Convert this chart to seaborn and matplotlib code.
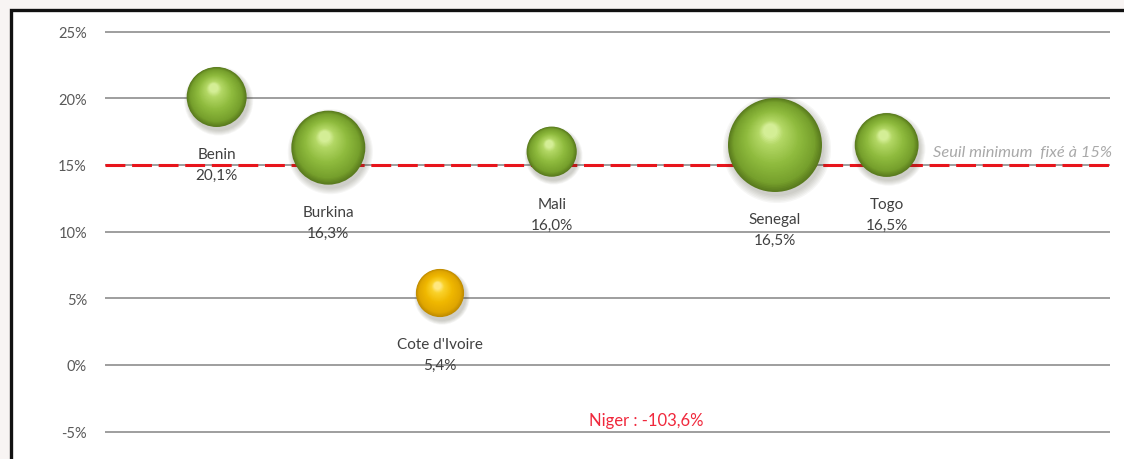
import numpy as np
import pandas as pd
import matplotlib
matplotlib.use("Agg")
import matplotlib.pyplot as plt
from matplotlib.colors import LinearSegmentedColormap
from matplotlib.patches import Rectangle
import matplotlib.transforms as mtransforms
import seaborn as sns

# --- données ---------------------------------------------------------------
pays = ["Benin", "Burkina", "Cote d'Ivoire", "Mali", "Niger", "Senegal", "Togo"]
position = [1, 2, 3, 4, 5, 6, 7]
ratio = [20.1, 16.3, 5.4, 16.0, -103.6, 16.5, 16.5]          # en %
taille_bulle = [9.0, 13.7, 5.8, 6.3, 8.0, 22.1, 10.2]
conforme = [True, True, False, True, False, True, True]
seuil = 15.0
graduations = [-5, 0, 5, 10, 15, 20, 25]

df = pd.DataFrame({"pays": pays, "x": position, "ratio": ratio,
                   "taille": taille_bulle, "conforme": conforme})

sns.set_theme(style="white")
plt.rcParams["font.family"] = ["Lato", "DejaVu Sans"]

W, H, DPI = 1124, 460, 100
fig = plt.figure(figsize=(W / DPI, H / DPI), dpi=DPI)
fig.patch.set_facecolor("#f8f4f3")

# cadre noir du graphique
fig.patches.append(Rectangle((10.5, -20), W + 20, H - 10.5 + 20, transform=None,
                             facecolor="white", edgecolor="#111111",
                             linewidth=2.4, zorder=-5))

ax = fig.add_axes([105 / W, 0, 1005 / W, (H - 14) / H])
ax.patch.set_visible(False)
ax.set_xlim(0, 9)
y_bas = -(H - 366) / (400 / 30)
y_haut = (366 - 14) / (400 / 30)
ax.set_ylim(y_bas, y_haut)
for s in ax.spines.values():
    s.set_visible(False)

ax.set_yticks(graduations)
ax.set_yticklabels([f"{g}%" for g in graduations], fontsize=10.5, color="#595959")
ax.set_xticks([])
ax.tick_params(axis="y", length=0, pad=13)
for g in graduations:
    ax.axhline(g, color="#8e8e8e", linewidth=1.2, zorder=1)

# seuil minimum
ax.axhline(seuil, color="#e8141b", linewidth=2.2, dashes=(6.5, 2.2), zorder=2)
ax.text(1.002, seuil + 1.0, "Seuil minimum  fixé à 15%",
        transform=mtransforms.blended_transform_factory(ax.transAxes, ax.transData),
        ha="right", va="center", fontsize=11.8, style="italic", color="#a9a9a9")

# bulles : taille proportionnelle à la surface
S_MAX = (2 * 47 * 72 / DPI) ** 2
t_max = max(taille_bulle)
df["s"] = df["taille"] / t_max * S_MAX
df["r_px"] = np.sqrt(df["s"]) / 2 * DPI / 72

px_x = ax.transData.transform((1, 0))[0] - ax.transData.transform((0, 0))[0]
px_y = ax.transData.transform((0, 1))[1] - ax.transData.transform((0, 0))[1]

vert = LinearSegmentedColormap.from_list(
    "vert", [(0.0, "#5a7b1e"), (0.15, "#76a02c"), (0.5, "#8fbb3e"),
             (0.85, "#b2d764"), (1.0, "#d4ee96")])
or_ = LinearSegmentedColormap.from_list(
    "or", [(0.0, "#c08c00"), (0.15, "#e0a600"), (0.5, "#f0b800"),
           (0.85, "#fad22a"), (1.0, "#ffe880")])

# ombre portée
for k in range(6):
    f = 1.0 + 0.03 * k
    ax.scatter(df["x"] + 2 / px_x, df["ratio"] - 4 / px_y, s=df["s"] * f * f,
               color="#3a3a20", alpha=0.045, linewidth=0, zorder=3)

# couche de base via seaborn
sns.scatterplot(data=df, x="x", y="ratio", size="taille", sizes=(0, S_MAX),
                size_norm=(0, t_max), hue="conforme",
                palette={True: vert(0.0), False: or_(0.0)},
                linewidth=0, legend=False, ax=ax, zorder=4)
ax.set_xlabel("")
ax.set_ylabel("")

# dégradé sphérique
N = 34
for i in range(1, N):
    t = i / (N - 1)
    f = 1 - 0.85 * t
    dx = -0.10 * df["r_px"] * t / px_x
    dy = 0.30 * df["r_px"] * t / px_y
    couleurs = [vert(t) if c else or_(t) for c in df["conforme"]]
    ax.scatter(df["x"] + dx, df["ratio"] + dy, s=df["s"] * f * f,
               c=couleurs, linewidth=0, zorder=4 + i * 0.01)

# étiquettes
for _, row in df.iterrows():
    if row["pays"] == "Niger":
        continue
    ax.annotate(row["pays"], (row["x"], row["ratio"]),
                xytext=(0, -(row["r_px"] + 27)), textcoords="offset pixels",
                ha="center", va="center", fontsize=11, color="#404040", zorder=6)
    ax.annotate(f"{row['ratio']:.1f}%".replace(".", ","), (row["x"], row["ratio"]),
                xytext=(0, -(row["r_px"] + 48)), textcoords="offset pixels",
                ha="center", va="center", fontsize=11, color="#404040", zorder=6)

niger = df[df["pays"] == "Niger"].iloc[0]
ax.text(niger["x"] - 0.15, -4.1,
        f"{niger['pays']} : {niger['ratio']:.1f}%".replace(".", ","),
        ha="center", va="center", fontsize=12, color="#f0283c")

fig.savefig("out.png", dpi=DPI, facecolor=fig.get_facecolor())
